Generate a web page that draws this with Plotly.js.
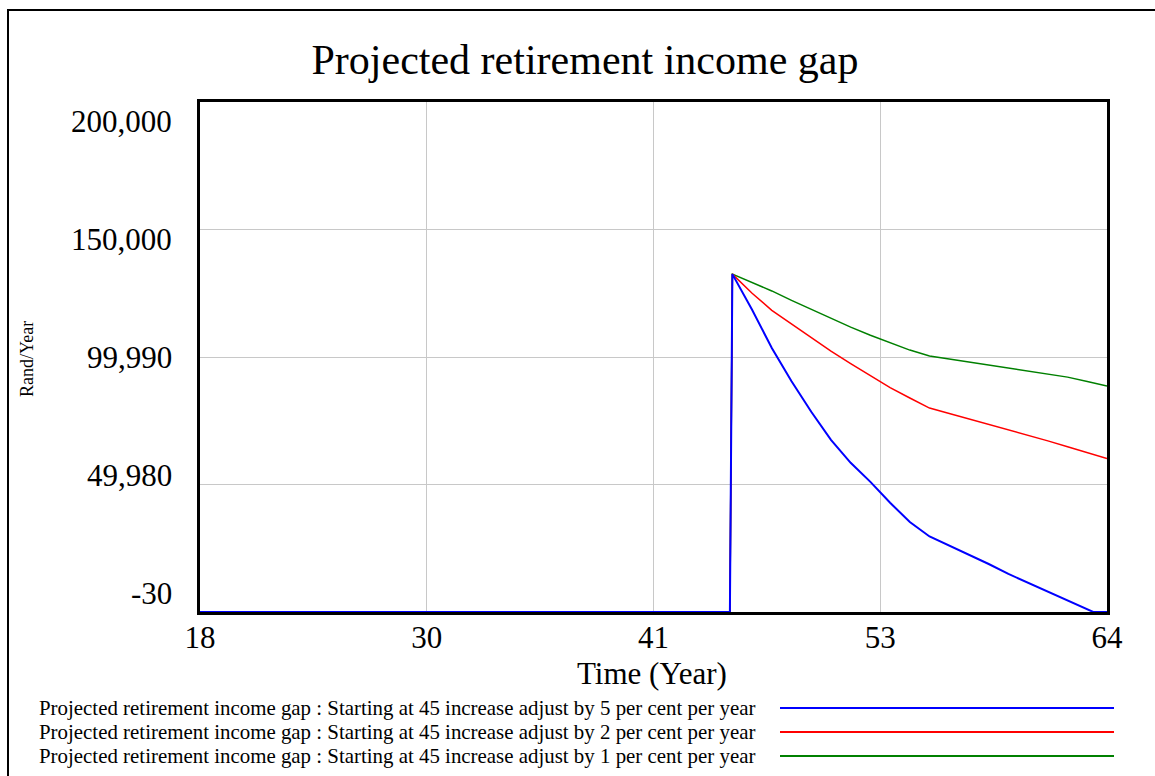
<!DOCTYPE html>
<html>
<head>
<meta charset="utf-8">
<script src="https://cdn.plot.ly/plotly-3.0.1.min.js"></script>
<style>
  html, body { margin: 0; padding: 0; background: #fff; overflow: hidden; }
  #frame { position: absolute; left: 7px; top: 9px; width: 2000px; height: 2000px;
           border-left: 2px solid #000; border-top: 2px solid #000; }
  #chart { position: absolute; left: 0; top: 0; width: 1155px; height: 776px; }
</style>
</head>
<body>
<div id="frame"></div>
<div id="chart"></div>
<script>
// ---- data ----
const chartTitle = "Projected retirement income gap";
const xTitle = "Time (Year)";
const yTitle = "Rand/Year";

const timeRG = [18, 44.875, 45, 46, 47, 48, 49, 50, 51, 52, 53, 54, 55, 56, 57, 58, 59, 60, 61, 62, 63, 64];
const timeBlue = [18, 44.875, 45, 46, 47, 48, 49, 50, 51, 52, 53, 54, 55, 56, 57, 58, 59, 60, 61, 62, 63, 63.3, 64];

const gap5pct = [0, 0, 132500, 118500, 103500, 90500, 78500, 67500, 58500, 51000, 42800, 35300, 29600, 26100, 22600, 18800, 14900, 11400, 8000, 4600, 1100, 0, 0];
const gap2pct = [0, 0, 132500, 125000, 118300, 112900, 107600, 102300, 97400, 92700, 88000, 83900, 79950, 77850, 75750, 73600, 71550, 69400, 67100, 64800, 62400, 60200];
const gap1pct = [0, 0, 132500, 129300, 125900, 122200, 118600, 115100, 111700, 108500, 105500, 102700, 100400, 99200, 98000, 96800, 95700, 94500, 93300, 92100, 90400, 88600];

const seriesNames = [
  "Projected retirement income gap : Starting at 45 increase adjust by 5 per cent per year",
  "Projected retirement income gap : Starting at 45 increase adjust by 2 per cent per year",
  "Projected retirement income gap : Starting at 45 increase adjust by 1 per cent per year"
];
const seriesColors = ["#0000ff", "#ff0000", "#008000"];

const xTickVals = [18, 29.5, 41, 52.5, 64];
const xTickText = ["18", "30", "41", "53", "64"];
const yTickVals = [-30, 49980, 99990, 150000, 200010];
const yTickText = ["-30", "49,980", "99,990", "150,000", "200,000"];

// ---- layout helpers (pixel -> paper) ----
const PL = 200, PR = 1107, PT = 102, PB = 612;
const px = x => (x - PL) / (PR - PL);
const py = y => (PB - y) / (PB - PT);
const FONT = "Liberation Serif, Times New Roman, serif";

const traces = [
  {x: timeRG, y: gap1pct, name: seriesNames[2], mode: "lines", line: {color: seriesColors[2], width: 1.5}},
  {x: timeRG, y: gap2pct, name: seriesNames[1], mode: "lines", line: {color: seriesColors[1], width: 1.5}},
  {x: timeBlue, y: gap5pct, name: seriesNames[0], mode: "lines", line: {color: seriesColors[0], width: 2}}
];

const annotations = [];
// y tick labels (Vensim style spreads them inside the axis span)
yTickVals.forEach((v, i) => {
  annotations.push({
    xref: "paper", yref: "y", x: 0, y: v, xanchor: "right", yanchor: "middle",
    xshift: -26, yshift: (2 - i) * 9.5,
    text: yTickText[i], showarrow: false, font: {family: FONT, size: 31, color: "#000"}
  });
});
// y axis title
annotations.push({
  xref: "paper", yref: "paper", x: px(27), y: py(359), xanchor: "center", yanchor: "middle",
  text: yTitle, textangle: -90, showarrow: false, font: {family: FONT, size: 18, color: "#000"}
});
// x axis title
annotations.push({
  xref: "paper", yref: "paper", x: px(652), y: py(673), xanchor: "center", yanchor: "middle",
  borderpad: 0,
  text: xTitle, showarrow: false, font: {family: FONT, size: 31, color: "#000"}
});
// legend rows
const shapes = [];
const legendRowsY = [708, 732, 756];
seriesNames.forEach((name, i) => {
  annotations.push({
    xref: "paper", yref: "paper", x: px(38), y: py(legendRowsY[i]), xanchor: "left", yanchor: "middle",
    borderpad: 0,
    text: name, showarrow: false, font: {family: FONT, size: 20.9, color: "#000"}
  });
  shapes.push({
    type: "line", xref: "paper", yref: "paper", x0: px(780), x1: px(1114),
    y0: py(legendRowsY[i]), y1: py(legendRowsY[i]),
    line: {color: seriesColors[i], width: 2}
  });
});

const layout = {
  width: 1155, height: 776,
  paper_bgcolor: "rgba(0,0,0,0)", plot_bgcolor: "#fff",
  margin: {l: PL, r: 1155 - PR, t: PT, b: 776 - PB, pad: 0},
  showlegend: false,
  title: {text: chartTitle, font: {family: FONT, size: 42, color: "#000"},
          x: 585 / 1155, xanchor: "center", xref: "container",
          y: 1 - 59 / 776, yanchor: "middle", yref: "container"},
  xaxis: {
    range: [18, 64], tickvals: xTickVals, ticktext: xTickText, ticks: "",
    tickfont: {family: FONT, size: 31, color: "#000"}, ticklabelstandoff: -4,
    showgrid: true, gridcolor: "#c8c8c8", gridwidth: 1, zeroline: false,
    showline: true, linecolor: "#000", linewidth: 3, mirror: true,
    layer: "below traces"
  },
  yaxis: {
    range: [-30, 200010], tickvals: yTickVals, ticktext: yTickText, ticks: "",
    showticklabels: false,
    showgrid: true, gridcolor: "#c8c8c8", gridwidth: 1, zeroline: false,
    showline: true, linecolor: "#000", linewidth: 3, mirror: true,
    layer: "below traces"
  },
  annotations: annotations,
  shapes: shapes
};

Plotly.newPlot("chart", traces, layout, {displayModeBar: false, staticPlot: true});
</script>
</body>
</html>
